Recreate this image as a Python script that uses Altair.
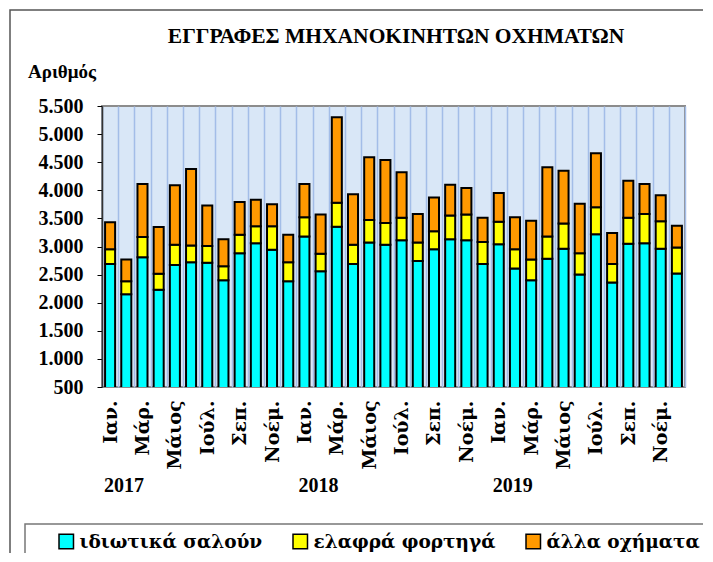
import altair as alt
import pandas as pd

title_text = "ΕΓΓΡΑΦΕΣ ΜΗΧΑΝΟΚΙΝΗΤΩΝ ΟΧΗΜΑΤΩΝ"
ylabel_text = "Αριθμός"
years = ["2017", "2018", "2019"]
months = ["Ιαν.", "Φεβ.", "Μάρ.", "Απρ.", "Μάιος", "Ιούν.",
          "Ιούλ.", "Αύγ.", "Σεπ.", "Οκτ.", "Νοέμ.", "Δεκ."]
series = ["ιδιωτικά σαλούν", "ελαφρά φορτηγά", "άλλα οχήματα"]
colors = ["#00ffff", "#ffff00", "#ff9900"]

cars = [2690, 2150, 2810, 2230, 2670, 2720, 2710, 2400, 2880, 3060, 2940, 2380,
        3180, 2560, 3350, 2690, 3070, 3030, 3110, 2740, 2950, 3130, 3110, 2690,
        3040, 2610, 2400, 2780, 2960, 2500, 3220, 2360, 3050, 3060, 2960, 2520]
trucks = [260, 230, 360, 285, 360, 300, 300, 250, 330, 300, 420, 340,
          340, 310, 430, 340, 400, 390, 400, 330, 320, 420, 460, 390,
          400, 340, 370, 400, 450, 380, 480, 330, 460, 520, 490, 460]
others = [480, 390, 940, 830, 1060, 1360, 720, 480, 580, 470, 390, 490,
          590, 700, 1520, 900, 1120, 1120, 810, 510, 600, 550, 470, 430,
          510, 570, 690, 1230, 940, 880, 960, 550, 660, 530, 460, 390]

rows = []
for i in range(36):
    for k, vals in enumerate([cars, trucks, others]):
        rows.append({"idx": i, "series": series[k], "ord": k, "value": vals[i]})
df = pd.DataFrame(rows)

# tick labels: every other month shown
tick_labels = [months[i % 12] if i % 2 == 0 else "" for i in range(36)]
label_expr = "[" + ",".join("'" + t + "'" for t in tick_labels) + "][datum.value]"

FONT = "Liberation Serif"
GFONT = "DejaVu Serif"

x_enc = alt.X(
    "idx:O",
    scale=alt.Scale(paddingInner=0, paddingOuter=0),
    axis=alt.Axis(
        title=None, grid=True, tickBand="extent", gridColor="#a3bde8",
        gridWidth=1.5, ticks=False, domain=False, labelAngle=-90,
        labelExpr=label_expr, labelFont=GFONT, labelFontWeight="bold",
        labelFontSize=19, labelColor="#000", labelPadding=13,
    ),
)

bars = alt.Chart(df).mark_bar(
    clip=True, stroke="black", strokeWidth=2, width=alt.RelativeBandSize(0.62)
).encode(
    x=x_enc,
    y=alt.Y(
        "value:Q", stack="zero",
        scale=alt.Scale(domain=[500, 5500], nice=False, zero=False),
        axis=alt.Axis(
            title=None, values=list(range(500, 5501, 500)), grid=False,
            domain=True, domainColor="#333", domainWidth=1.5,
            tickColor="black", tickSize=5, tickWidth=1,
            labelExpr="replace(format(datum.value, ','), ',', '.')",
            labelFont=FONT, labelFontWeight="bold", labelFontSize=20,
            labelColor="#000", labelPadding=14,
        ),
    ),
    color=alt.Color(
        "series:N",
        scale=alt.Scale(domain=series, range=colors),
        legend=alt.Legend(
            title=None, orient="none", legendX=-45, legendY=426,
            direction="horizontal", symbolType="square", symbolSize=210,
            symbolStrokeColor="black", symbolStrokeWidth=1.5,
            labelFont=GFONT, labelFontWeight="bold", labelFontSize=18.5,
            labelColor="#000", labelLimit=400, labelOffset=4,
            columnPadding=27, padding=0,
        ),
    ),
    order=alt.Order("ord:Q", sort="ascending"),
)

year_df = pd.DataFrame({"idx": [0, 12, 24], "year": years})
year_text = alt.Chart(year_df).mark_text(
    font=FONT, fontWeight="bold", fontSize=20, align="center",
    baseline="middle", dx=14, color="#000",
).encode(x=alt.X("idx:O"), y=alt.value(380), text="year:N")

title_df = pd.DataFrame({"t": [title_text]})
title = alt.Chart(title_df).mark_text(
    font=FONT, fontWeight="bold", fontSize=21.5, align="center",
    baseline="middle", color="#000",
).encode(x=alt.value(294), y=alt.value(-69), text="t:N")

ylab_df = pd.DataFrame({"t": [ylabel_text]})
ylab = alt.Chart(ylab_df).mark_text(
    font=FONT, fontWeight="bold", fontSize=19, align="left",
    baseline="middle", color="#000",
).encode(x=alt.value(-74), y=alt.value(-34), text="t:N")

frame_df = pd.DataFrame({"a": [0]})
outer = alt.Chart(frame_df).mark_rect(
    fill="transparent", stroke="#555", strokeWidth=1.5
).encode(x=alt.value(-92), x2=alt.value(660), y=alt.value(-96), y2=alt.value(520))
legbox = alt.Chart(frame_df).mark_rect(
    fill="transparent", stroke="#777", strokeWidth=1.5
).encode(x=alt.value(-77), x2=alt.value(660), y=alt.value(418), y2=alt.value(520))

chart = alt.layer(outer, legbox, bars, year_text, title, ylab).properties(
    width=583, height=281,
    autosize=alt.AutoSizeParams(type="none"),
    padding={"left": 94, "top": 98, "right": 18, "bottom": 166},
    background="white",
).configure_view(fill="#d9e7f7", stroke="#8c8c8c", strokeWidth=2)

chart.save("out.html", embed_options={"renderer": "svg", "actions": False})
